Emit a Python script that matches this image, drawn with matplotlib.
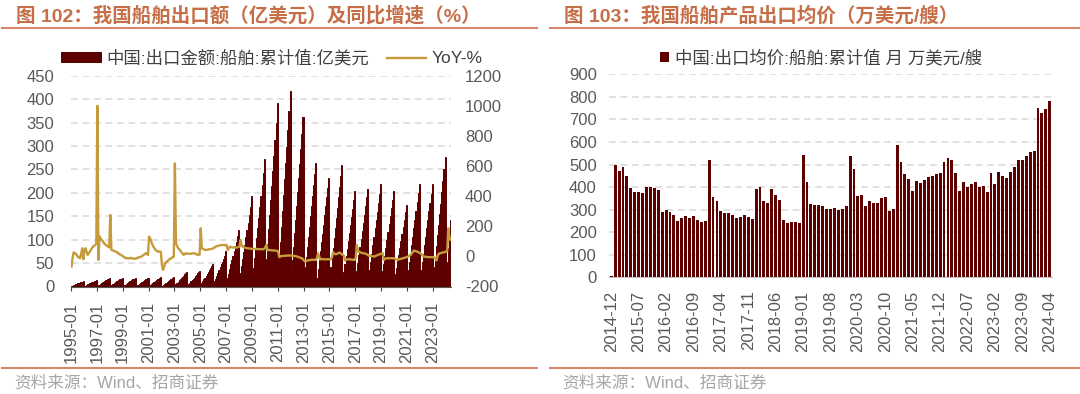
import matplotlib
matplotlib.use("Agg")
import matplotlib.pyplot as plt
from matplotlib.lines import Line2D
import numpy as np

plt.rcParams["font.family"] = ["Liberation Sans", "Noto Sans CJK SC"]
plt.rcParams["axes.unicode_minus"] = False

# ---- data: left chart (monthly, 1995-01 .. 2024-05) ----
# cumulative ship export value, 100m USD
export_cum = [
    1, 2, 3, 4, 5, 6, 7, 8, 9, 9, 10, 11,                            # 1995
    1, 2, 3, 5, 6, 7, 8, 9, 10, 11, 12, 14,                          # 1996
    1, 3, 4, 6, 7, 9, 10, 12, 13, 15, 16, 18,                        # 1997
    2, 3, 5, 6, 8, 9, 11, 12, 14, 16, 17, 19,                        # 1998
    1, 3, 4, 6, 8, 9, 11, 12, 14, 15, 17, 19,                        # 1999
    1, 3, 4, 6, 7, 9, 10, 12, 13, 15, 16, 18,                        # 2000
    2, 3, 5, 7, 9, 10, 12, 14, 15, 17, 19, 21,                       # 2001
    1, 3, 5, 7, 8, 10, 12, 13, 15, 17, 19, 21,                       # 2002
    2, 5, 7, 10, 13, 15, 18, 21, 23, 26, 29, 32,                     # 2003
    2, 5, 8, 11, 14, 16, 19, 22, 25, 28, 31, 34,                     # 2004
    3, 7, 11, 15, 19, 23, 27, 31, 35, 39, 44, 48,                    # 2005
    5, 11, 17, 23, 29, 35, 41, 47, 53, 59, 66, 75,                   # 2006
    8, 18, 27, 37, 47, 57, 66, 76, 86, 96, 108, 121,                 # 2007
    13, 28, 43, 58, 74, 89, 105, 120, 136, 152, 170, 193,            # 2008
    20, 40, 61, 82, 103, 125, 147, 170, 193, 216, 242, 272,          # 2009
    28, 58, 90, 122, 153, 184, 215, 246, 278, 312, 350, 392,         # 2010
    30, 62, 95, 128, 162, 196, 230, 264, 298, 334, 374, 418,         # 2011
    28, 56, 85, 114, 143, 172, 201, 231, 262, 293, 326, 361,         # 2012
    20, 42, 63, 85, 106, 128, 150, 172, 194, 217, 240, 263,          # 2013
    18, 37, 56, 75, 94, 113, 132, 152, 171, 191, 211, 232,           # 2014
    20, 41, 62, 83, 104, 125, 146, 168, 190, 212, 235, 259,          # 2015
    16, 32, 48, 65, 81, 98, 114, 131, 148, 166, 184, 203,            # 2016
    16, 33, 50, 67, 84, 101, 118, 136, 153, 171, 190, 209,           # 2017
    17, 35, 52, 70, 88, 106, 124, 142, 160, 179, 198, 218,           # 2018
    16, 33, 49, 66, 82, 99, 116, 133, 150, 167, 185, 204,            # 2019
    14, 26, 40, 54, 68, 83, 98, 113, 128, 143, 158, 173,             # 2020
    17, 35, 52, 70, 88, 106, 124, 143, 161, 180, 199, 219,           # 2021
    17, 35, 52, 70, 88, 106, 124, 142, 161, 179, 198, 218,           # 2022
    20, 42, 64, 86, 109, 131, 154, 177, 201, 226, 251, 277,          # 2023
    25, 52, 82, 112, 142,                                            # 2024
]

# year-on-year growth, %
yoy = [
    -67, -10, 26, 22, 17, 8, -5, -8, -12, 20, 54, -19,               # 1995
    40, 54, 30, 10, 20, 32, 45, 55, 65, 70, 76, 85,                  # 1996
    1000, -23, 132, 118, 110, 100, 90, 80, 76, 70, 65, 60,           # 1997
    275, 43, 40, 38, 35, 32, 28, 22, 18, 12, 10, 5,                  # 1998
    0, -5, -12, -10, -12, -14, -12, -10, -12, -15, -14, -16,         # 1999
    -15, -10, -8, -5, -5, 0, 5, 10, 15, 21, 18, 10,                  # 2000
    132, 120, 99, 80, 65, 55, 43, 38, 32, 32, 32, 30,                # 2001
    -60, -89, -70, -45, -38, -30, -25, -19, -15, -10, -5, -2,        # 2002
    618, 88, 70, 54, 48, 39, 30, 20, 10, 15, 21, 18,                 # 2003
    18, 17, 17, 18, 20, 20, 20, 18, 15, 10, 10, 12,                  # 2004
    187, 54, 50, 46, 43, 43, 44, 46, 47, 48, 50, 52,                 # 2005
    55, 60, 65, 68, 70, 72, 74, 76, 76, 75, 74, 76,                  # 2006
    76, 43, 50, 65, 62, 60, 59, 60, 59, 58, 60, 62,                  # 2007
    65, 110, 75, 65, 60, 58, 56, 54, 54, 52, 52, 50,                 # 2008
    50, 50, 50, 49, 49, 48, 48, 48, 48, 47, 48, 50,                  # 2009
    60, 76, 43, 42, 42, 41, 40, 40, 39, 39, 38, 36,                  # 2010
    32, -5, 0, 2, 3, 3, 4, 5, 5, 6, 6, 5,                            # 2011
    6, 5, 4, 3, 2, 0, -2, -5, -8, -10, -12, -20,                     # 2012
    -28, -34, -30, -28, -26, -25, -23, -23, -22, -23, -23, -23,      # 2013
    -10, 21, 0, -19, -19, -18, -19, -19, -20, -19, -19, -19,         # 2014
    -19, -19, -5, 26, 20, 15, 15, 18, 22, 26, 20, 15,                # 2015
    10, 5, -27, -22, -20, -19, -19, -20, -21, -22, -23, -23,         # 2016
    -10, 76, 40, 32, 28, 25, 22, 21, 20, 18, 15, 10,                 # 2017
    5, 3, 2, 1, 0, 0, 0, 5, 8, 10, 14, 17,                           # 2018
    18, 21, -23, -18, -15, -12, -12, -12, -13, -12, -12, -12,        # 2019
    -15, -18, -23, -22, -20, -18, -16, -14, -12, -10, -8, -5,        # 2020
    -3, 0, 5, 10, 20, 30, 39, 36, 34, 32, 28, 25,                    # 2021
    21, 15, 8, 0, -2, -3, -4, -5, -5, -5, -5, -5,                    # 2022
    -5, -8, -15, -27, 0, 17, 20, 22, 24, 26, 28, 30,                 # 2023
    32, 35, 187, 130, 110,                                           # 2024
]

left_ticklabels = ["1995-01", "1997-01", "1999-01", "2001-01", "2003-01",
                   "2005-01", "2007-01", "2009-01", "2011-01", "2013-01",
                   "2015-01", "2017-01", "2019-01", "2021-01", "2023-01"]

# ---- data: right chart (monthly, 2014-12 .. 2024-04), 10k USD per ship ----
avg_price = [
    6, 498, 471, 488, 451, 398, 380, 380, 372, 400, 402, 398, 387,
    291, 300, 291, 275, 250, 263, 272, 265, 270, 254, 247, 248,
    520, 358, 340, 296, 285, 284, 276, 262, 268, 275, 266, 260,
    390, 402, 340, 331, 390, 365, 341, 254, 239, 245, 247, 242,
    541, 423, 327, 319, 322, 316, 301, 301, 306, 297, 305, 318,
    537, 479, 359, 365, 316, 340, 331, 331, 352, 355, 296, 303,
    585, 511, 460, 436, 384, 426, 417, 432, 443, 449, 457, 464,
    511, 531, 520, 463, 383, 423, 402, 414, 424, 400, 404, 380,
    463, 415, 467, 448, 439, 466, 488, 522, 522, 538, 556, 562,
    752, 727, 748, 782,
]

right_ticklabels = ["2014-12", "2015-07", "2016-02", "2016-09", "2017-04",
                    "2017-11", "2018-06", "2019-01", "2019-08", "2020-03",
                    "2020-10", "2021-05", "2021-12", "2022-07", "2023-02",
                    "2023-09", "2024-04"]

# ---- styles ----
BAR_RED = "#5C0000"
GOLD = "#C59B3C"
TITLE_C = "#C66E47"
RULE_C = "#D8876A"
TICK_C = "#595959"
TEXT_C = "#404040"
GRID_C = "#D9D9D9"
FS = 12
W, H = 1080, 394


def fx(px):
    return px / W


def fy(py):
    return 1 - py / H


fig = plt.figure(figsize=(W / 100, H / 100), dpi=100)

# titles, header / footer rules, source notes
for x0, x1, title in [(2, 537, "图 102：我国船舶出口额（亿美元）及同比增速（%）"),
                      (550, 1080, "图 103：我国船舶产品出口均价（万美元/艘）")]:
    fig.text(fx(x0 + 14), fy(16), title, fontsize=14, fontweight="bold",
             color=TITLE_C, va="center", ha="left")
    fig.add_artist(Line2D([fx(x0), fx(x1)], [fy(28), fy(28)],
                          color=RULE_C, lw=1.5))
    fig.add_artist(Line2D([fx(x0), fx(x1)], [fy(368), fy(368)],
                          color=RULE_C, lw=1.5))
    fig.text(fx(x0 + 12), fy(383), "资料来源：Wind、招商证券", fontsize=12,
             color="#A6A6A6", va="center", ha="left")

# ---------------- left chart ----------------
ax = fig.add_axes([fx(71), fy(286.5), fx(380), (286.5 - 75.7) / H])
x = np.arange(len(export_cum))
bars = ax.bar(x, export_cum, width=1.0, color=BAR_RED, edgecolor=BAR_RED,
              linewidth=0.7,
              label="中国:出口金额:船舶:累计值:亿美元", zorder=2)
ax.set_xlim(-0.5, len(export_cum) - 0.5)
ax.set_ylim(0, 450)
ax.set_yticks(np.arange(0, 451, 50))
ax.set_xticks(np.arange(0, len(left_ticklabels)) * 24 - 0.5)
ax.set_xticklabels(left_ticklabels, rotation=90)
ax.tick_params(axis="y", length=0, pad=12, labelsize=FS, labelcolor=TICK_C)
ax.tick_params(axis="x", length=3, width=0.8, color="#404040", pad=8,
               labelsize=FS, labelcolor=TICK_C)
for s in ["top", "right", "left"]:
    ax.spines[s].set_visible(False)
ax.spines["bottom"].set_color("#595959")
ax.set_axisbelow(True)
ax.yaxis.grid(True, color=GRID_C, lw=1.1, linestyle=(0, (4.5, 3)))

ax2 = ax.twinx()
line, = ax2.plot(x, yoy, color=GOLD, lw=1.7, label="YoY-%", zorder=3)
ax2.set_ylim(-200, 1200)
ax2.set_yticks(np.arange(-200, 1201, 200))
ax2.tick_params(axis="y", length=0, pad=10, labelsize=FS, labelcolor=TICK_C)
for s in ax2.spines.values():
    s.set_visible(False)

fig.legend([bars, line], [bars.get_label(), line.get_label()],
           loc="center", bbox_to_anchor=(fx(272), fy(58)), ncol=2,
           frameon=False, fontsize=12.5, labelcolor=TEXT_C,
           handlelength=2.3, handleheight=0.55, handletextpad=0.3,
           columnspacing=1.0, borderaxespad=0, borderpad=0)

# ---------------- right chart ----------------
bx = fig.add_axes([fx(609.3), fy(277.3), fx(442.4), (277.3 - 74.3) / H])
xr = np.arange(len(avg_price))
rbars = bx.bar(xr, avg_price, width=0.74, color=BAR_RED, linewidth=0,
               label="中国:出口均价:船舶:累计值 月 万美元/艘", zorder=2)
bx.set_xlim(-0.5, len(avg_price) - 0.5)
bx.set_ylim(0, 900)
bx.set_yticks(np.arange(0, 901, 100))
bx.set_xticks(np.arange(0, len(avg_price), 7))
bx.set_xticklabels(right_ticklabels, rotation=90)
bx.tick_params(axis="y", length=0, pad=9, labelsize=FS, labelcolor=TICK_C)
bx.tick_params(axis="x", length=0, pad=9.5, labelsize=FS, labelcolor=TICK_C)
for s in ["top", "right", "left"]:
    bx.spines[s].set_visible(False)
bx.spines["bottom"].set_color("#BFBFBF")
bx.set_axisbelow(True)
bx.yaxis.grid(True, color=GRID_C, lw=1.1, linestyle=(0, (4.5, 3)))

fig.legend([rbars], [rbars.get_label()], loc="center",
           bbox_to_anchor=(fx(821), fy(58)), frameon=False, fontsize=12.5,
           labelcolor=TEXT_C, handlelength=0.55, handleheight=0.55,
           handletextpad=0.35, borderaxespad=0, borderpad=0)

fig.savefig("out.png", dpi=100)
plt.close(fig)
